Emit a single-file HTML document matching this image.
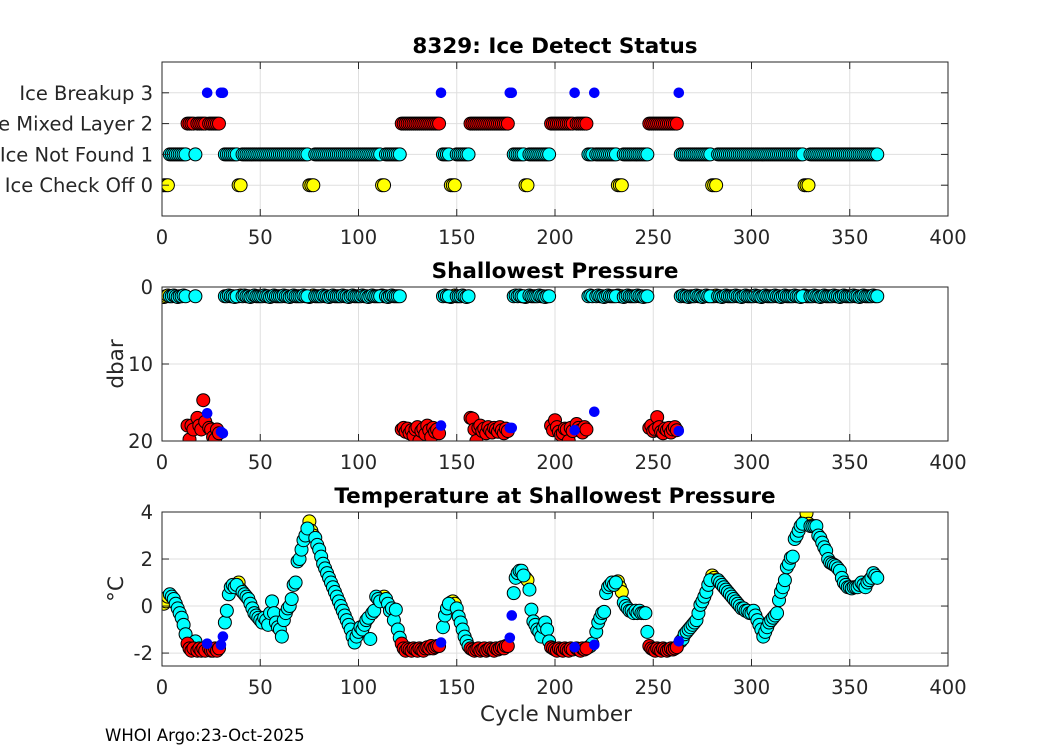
<!DOCTYPE html>
<html><head><meta charset="utf-8">
<style>
html,body{margin:0;padding:0;background:#fff;}
svg{display:block;font-family:"DejaVu Sans","Liberation Sans",sans-serif;}
</style></head>
<body>
<svg id="fig" width="1050" height="750" viewBox="0 0 1050 750" xmlns="http://www.w3.org/2000/svg">
<rect width="1050" height="750" fill="#fff"/>
</svg>
<script>
// ---- data (index i => cycle i+1) ----
const statusValues = [
0,0,0,1,1,1,1,1,1,1, 1,1,2,2,2,2,1,2,2,2, 2,2,3,2,2,2,2,2,2,3, 3,1,1,1,1,1,1,1,0,0,
1,1,1,1,1,1,1,1,1,1, 1,1,1,1,1,1,1,1,1,1, 1,1,1,1,1,1,1,1,1,1, 1,1,1,1,0,0,0,1,1,1,
1,1,1,1,1,1,1,1,1,1, 1,1,1,1,1,1,1,1,1,1, 1,1,1,1,1,1,1,1,1,1, 1,0,0,1,1,1,1,1,1,1,
1,2,2,2,2,2,2,2,2,2, 2,2,2,2,2,2,2,2,2,2, 2,3,1,1,1,1,0,0,0,1, 1,1,1,1,1,1,2,2,2,2,
2,2,2,2,2,2,2,2,2,2, 2,2,2,2,2,2,3,3,1,1, 1,1,1,1,0,0,1,1,1,1, 1,1,1,1,1,1,1,2,2,2,
2,2,2,2,2,2,2,2,2,3, 2,2,2,2,2,2,1,1,1,3, 1,1,1,1,1,1,1,1,1,1, 1,0,0,0,1,1,1,1,1,1,
1,1,1,1,1,1,1,2,2,2, 2,2,2,2,2,2,2,2,2,2, 2,2,3,1,1,1,1,1,1,1, 1,1,1,1,1,1,1,1,1,0,
0,0,1,1,1,1,1,1,1,1, 1,1,1,1,1,1,1,1,1,1, 1,1,1,1,1,1,1,1,1,1, 1,1,1,1,1,1,1,1,1,1,
1,1,1,1,1,1,0,0,0,1, 1,1,1,1,1,1,1,1,1,1, 1,1,1,1,1,1,1,1,1,1, 1,1,1,1,1,1,1,1,1,1,
1,1,1,1
];
const pressureValues = [
1.3,1.2,1.1,1.2,1.2,1.1,1.2,1.3,1.2,1.2, 1.1,1.2,18.0,19.8,18.0,18.5,1.2,17.0,18.0,18.5,
14.7,17.5,16.4,18.3,18.5,19.5,19.8,18.5,19.0,18.8, 19.0,1.2,1.2,1.1,1.2,1.2,1.3,1.2,1.2,1.1,
1.2,1.1,1.2,1.2,1.3,1.2,1.1,1.2,1.2,1.2, 1.2,1.1,1.2,1.2,1.3,1.2,1.1,1.2,1.2,1.2,
1.2,1.1,1.2,1.2,1.3,1.2,1.1,1.2,1.2,1.2, 1.2,1.1,1.2,1.2,1.3,1.2,1.1,1.2,1.2,1.2,
1.2,1.1,1.2,1.2,1.3,1.2,1.1,1.2,1.2,1.2, 1.2,1.1,1.2,1.2,1.3,1.2,1.1,1.2,1.2,1.2,
1.2,1.1,1.2,1.2,1.3,1.2,1.1,1.2,1.2,1.2, 1.2,1.1,1.2,1.2,1.3,1.2,1.1,1.2,1.2,1.2,
1.2,18.5,18.3,18.8,18.4,19.0,18.6,19.3,18.5,18.2, 20.0,18.7,18.4,19.1,18.0,18.6,19.5,18.3,18.8,18.5,
19.0,18.0,1.2,1.1,1.2,1.2,1.3,1.2,1.1,1.2, 1.2,1.2,1.1,1.2,1.3,1.2,17.0,17.1,18.5,20.0,
18.3,18.0,18.7,18.4,19.0,18.2,18.6,18.9,18.3,18.5, 18.8,18.2,18.6,19.0,18.4,18.7,18.3,18.3,1.2,1.1,
1.2,1.1,1.2,1.2,1.3,1.2,1.1,1.2,1.2,1.2, 1.2,1.1,1.2,1.2,1.3,1.2,1.2,18.0,18.6,17.3,
18.2,18.8,19.2,19.0,18.4,18.5,20.0,18.3,18.7,18.6, 17.8,18.3,18.6,18.9,18.2,18.5,1.2,1.1,1.2,16.2,
1.2,1.1,1.2,1.2,1.3,1.2,1.1,1.2,1.2,1.2, 1.2,1.1,1.2,1.2,1.3,1.2,1.1,1.2,1.2,1.2,
1.2,1.1,1.2,1.2,1.3,1.2,1.2,18.3,18.0,18.7, 18.5,16.9,18.2,18.8,19.0,18.4,18.6,18.3,18.9,18.5,
18.2,18.6,18.7,1.2,1.1,1.2,1.2,1.3,1.2,1.2, 1.2,1.1,1.2,1.2,1.3,1.2,1.1,1.2,1.2,1.2,
1.2,1.1,1.2,1.2,1.3,1.2,1.1,1.2,1.2,1.2, 1.2,1.1,1.2,1.2,1.3,1.2,1.1,1.2,1.2,1.2,
1.2,1.1,1.2,1.2,1.3,1.2,1.1,1.2,1.2,1.2, 1.2,1.1,1.2,1.2,1.3,1.2,1.1,1.2,1.2,1.2,
1.2,1.1,1.2,1.2,1.3,1.2,1.1,1.2,1.2,1.2, 1.2,1.1,1.2,1.2,1.3,1.2,1.1,1.2,1.2,1.2,
1.2,1.1,1.2,1.2,1.3,1.2,1.1,1.2,1.2,1.2, 1.2,1.1,1.2,1.2,1.3,1.2,1.1,1.2,1.2,1.2,
1.2,1.1,1.2,1.2
];
const temperatureValues = [
0.1,0.2,0.4,0.5,0.4,0.3,0.1,-0.1,-0.3,-0.5,
-0.8,-1.2,-1.6,-1.8,-1.9,-1.8,-1.5,-1.9,-1.8,-1.9,
-1.8,-1.9,-1.6,-1.8,-1.9,-1.9,-1.8,-1.9,-1.8,-1.65,
-1.3,-0.7,-0.2,0.5,0.8,0.9,0.8,0.9,1.0,0.7,
0.6,0.5,0.4,0.3,0.1,-0.1,-0.3,-0.4,-0.5,-0.6,
-0.7,-0.5,-0.6,-0.8,-0.3,0.2,-0.3,-0.7,-0.9,-1.0,
-1.3,-0.6,-0.3,-0.1,0.0,0.3,0.9,1.0,1.9,2.0,
2.4,2.8,3.0,3.3,3.6,3.2,3.0,2.9,2.6,2.4,
2.1,1.8,1.6,1.4,1.2,1.0,0.8,0.6,0.4,0.2,
0.0,-0.2,-0.4,-0.6,-0.8,-1.0,-1.3,-1.55,-1.3,-1.1,
-0.9,-1.0,-0.8,-0.6,-0.5,-1.4,-0.3,-0.2,0.4,0.3,
0.2,0.3,0.4,0.3,0.1,-0.2,-0.1,-0.6,-0.15,-1.0,
-1.35,-1.6,-1.8,-1.9,-1.8,-1.85,-1.9,-1.8,-1.85,-1.9,
-1.8,-1.85,-1.9,-1.8,-1.75,-1.8,-1.7,-1.8,-1.75,-1.7,
-1.7,-1.55,-0.9,-0.4,-0.1,0.1,0.15,0.2,0.1,-0.1,
-0.45,-0.7,-1.0,-1.3,-1.5,-1.7,-1.8,-1.85,-1.9,-1.85,
-1.8,-1.9,-1.85,-1.8,-1.9,-1.85,-1.8,-1.85,-1.9,-1.8,
-1.85,-1.8,-1.75,-1.8,-1.7,-1.7,-1.35,-0.4,0.55,1.2,
1.4,1.5,1.5,1.3,1.2,1.1,0.7,-0.15,-0.65,-0.8,
-1.0,-1.1,-1.3,-0.9,-0.7,-1.0,-1.5,-1.75,-1.8,-1.85,
-1.9,-1.8,-1.85,-1.9,-1.8,-1.85,-1.9,-1.8,-1.85,-1.75,
-1.8,-1.85,-1.9,-1.8,-1.85,-1.8,-1.75,-1.7,-1.6,-1.65,
-1.1,-0.7,-0.5,-0.3,-0.25,0.55,0.8,0.9,1.0,0.9,
1.0,1.05,0.8,0.6,0.15,0.0,-0.1,-0.2,-0.2,-0.3,
-0.2,-0.3,-0.2,-0.3,-0.3,-0.3,-1.1,-1.7,-1.8,-1.85,
-1.9,-1.8,-1.85,-1.9,-1.8,-1.85,-1.9,-1.85,-1.8,-1.85,
-1.8,-1.75,-1.5,-1.5,-1.4,-1.2,-1.1,-1.0,-0.9,-0.8,
-0.7,-0.6,-0.3,0.05,0.2,0.4,0.6,0.9,1.1,1.3,
1.2,1.1,1.1,1.0,0.9,0.8,0.7,0.6,0.5,0.4,
0.3,0.2,0.1,0.0,-0.1,-0.1,-0.2,-0.2,-0.3,-0.3,
-0.2,-0.4,-0.6,-0.8,-1.0,-1.3,-1.1,-0.9,-0.7,-0.6,
-0.5,-0.4,-0.3,0.25,0.6,0.8,1.1,1.65,1.8,2.05,
2.1,2.85,3.0,3.2,3.4,3.5,3.6,3.95,3.5,3.4,
3.4,3.4,3.4,3.0,2.9,2.7,2.5,2.35,2.0,1.85,
1.8,1.75,1.7,1.6,1.5,1.2,1.0,0.9,0.8,0.8,
0.75,0.8,0.8,0.8,0.9,1.0,0.9,0.8,1.0,1.1,
1.2,1.4,1.3,1.2
];
const xTicks = [0,50,100,150,200,250,300,350,400];
const statusTickLabels = ["Ice Check Off 0","Ice Not Found 1","Ice Mixed Layer 2","Ice Breakup 3"];
const statusTicks = [0,1,2,3];
const pressureTicks = [0,10,20];
const tempTicks = [-2,0,2,4];

const NS = "http://www.w3.org/2000/svg";
const svg = document.getElementById('fig');
function mk(tag, attrs, parent){
  const e = document.createElementNS(NS, tag);
  for (const k in attrs) e.setAttribute(k, attrs[k]);
  (parent||svg).appendChild(e);
  return e;
}
const X0=162, X1=948, XMIN=0, XMAX=400;
function xs(v){ return X0 + (v-XMIN)/(XMAX-XMIN)*(X1-X0); }
const fills = ["#ffff00","#00ffff","#ff0000","#0000ff"];
const strokes = ["#000","#000","#000","#0000ff"];
const catNames = ["check-off","not-found","mixed-layer","breakup"];

function panel(name, top, bottom, ymin, ymax, reversed, yTicks, yLabels, title, yTitle, values){
  const ys = v => reversed ? top + (v-ymin)/(ymax-ymin)*(bottom-top) : bottom - (v-ymin)/(ymax-ymin)*(bottom-top);
  const g = mk('g', {});
  
  
  mk('rect',{x:X0,y:top,width:X1-X0,height:bottom-top,fill:'#fff'},g);
  xTicks.forEach(t=>{
    const l = mk('line',{x1:xs(t),x2:xs(t),y1:top,y2:bottom,stroke:'#dfdfdf','stroke-width':1},g);
    
    
  });
  yTicks.forEach(t=>{
    const l = mk('line',{x1:X0,x2:X1,y1:ys(t),y2:ys(t),stroke:'#dfdfdf','stroke-width':1},g);
    
    
  });
  const clipId = 'clip-' + name;
  const cp = mk('clipPath',{id:clipId},g);
  mk('rect',{x:X0,y:top,width:X1-X0,height:bottom-top},cp);
  const pg = mk('g',{'clip-path':'url(#'+clipId+')'},g);
  [0,1,2,3].forEach(cat=>{
    for(let i=0;i<statusValues.length;i++){
      if(statusValues[i]!==cat) continue;
      const c = mk('circle',{cx:xs(i+1),cy:ys(values[i]),r:cat===3?5:6.5,fill:fills[cat],stroke:strokes[cat],'stroke-width':cat===3?0.6:1},pg);
      
      
    }
  });
  const box = mk('rect',{x:X0,y:top,width:X1-X0,height:bottom-top,fill:'none',stroke:'#262626','stroke-width':1},g);
  
  
  xTicks.forEach(t=>{
    mk('line',{x1:xs(t),x2:xs(t),y1:bottom,y2:bottom-7,stroke:'#262626'},g);
    mk('line',{x1:xs(t),x2:xs(t),y1:top,y2:top+7,stroke:'#262626'},g);
    const tx = mk('text',{x:xs(t),y:bottom+28,'text-anchor':'middle','font-size':19.5,fill:'#262626'},g);
    tx.textContent = t;
    
    
  });
  yTicks.forEach((t,k)=>{
    mk('line',{x1:X0,x2:X0+7,y1:ys(t),y2:ys(t),stroke:'#262626'},g);
    mk('line',{x1:X1,x2:X1-7,y1:ys(t),y2:ys(t),stroke:'#262626'},g);
    const tx = mk('text',{x:X0-9,y:ys(t)+7,'text-anchor':'end','font-size':19.5,fill:'#262626'},g);
    tx.textContent = yLabels ? yLabels[k] : t;
    
    
  });
  const tt = mk('text',{x:(X0+X1)/2,y:top-9,'text-anchor':'middle','font-size':21.5,'font-weight':'bold',fill:'#000'},g);
  tt.textContent = title;
  
  
  if(yTitle){
    const cy=(top+bottom)/2;
    const yt = mk('text',{x:123,y:cy,'text-anchor':'middle','font-size':21.5,fill:'#262626',transform:'rotate(-90 123 '+cy+')'},g);
    yt.textContent = yTitle;
    
    
  }
}

panel('ice-status', 62, 216, -1, 4, false, statusTicks, statusTickLabels, '8329: Ice Detect Status', null, statusValues);
panel('shallowest-pressure', 287, 441, 0, 20, true, pressureTicks, null, 'Shallowest Pressure', 'dbar', pressureValues);
panel('temperature', 512, 666, -2.55, 4, false, tempTicks, null, 'Temperature at Shallowest Pressure', '°C', temperatureValues);

const xl = mk('text',{x:556,y:721,'text-anchor':'middle','font-size':21.5,fill:'#262626'});
xl.textContent = 'Cycle Number';


const ft = mk('text',{x:105,y:741,'font-size':16.5,fill:'#000'});
ft.textContent = 'WHOI Argo:23-Oct-2025';


</script>
</body></html>
